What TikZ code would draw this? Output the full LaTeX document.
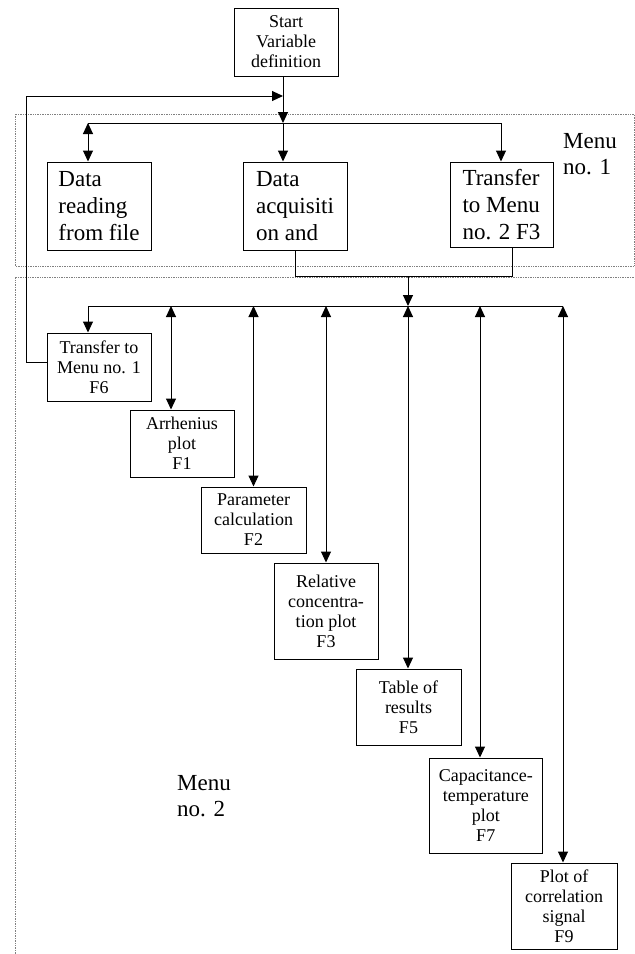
\documentclass[tikz,border=0pt]{standalone}
\usepackage{fontspec}
\setmainfont{Liberation Serif}
\usetikzlibrary{arrows.meta,positioning}

\begin{document}
\begin{tikzpicture}[
x=1pt, y=-1pt,
fsmall/.style={draw, line width=1pt, align=center, inner sep=0pt,
font=\fontsize{18}{20}\selectfont},
fbig/.style={draw, line width=1pt, align=left, inner sep=0pt,
minimum width=104pt, minimum height=88pt, font=\fontsize{23}{26.7}\selectfont},
menulabel/.style={anchor=north west, align=left, inner sep=0pt,
font=\fontsize{23}{26.7}\selectfont},
menuframe/.style={densely dotted, gray, line width=0.7pt},
link/.style={line width=1pt},
flow/.style={link, -{Triangle[length=11pt,width=10pt]}},
flowboth/.style={link, {Triangle[length=11pt,width=10pt]}-{Triangle[length=11pt,width=10pt]}}
]
\useasboundingbox (0,0) rectangle (635,954);

% menu frames
\draw[menuframe] (15,114) rectangle (634,266);
\draw[menuframe] (15,954) -- (15,277) -- (635,277);
\node[menulabel] (menu1) at (563,133) {Menu\\no. 1};
\node[menulabel] (menu2) at (177,775) {Menu\\no. 2};

\node[fsmall, minimum width=104, minimum height=68] (start) at (286,42) {Start\\Variable\\definition};

% menu 1
\node[fbig] (read) at (99,206) {Data\\reading\\from file};
\node[fbig] (acq) at (295,206) {Data\\acquisiti\\on and};
\node[fbig, minimum width=103, minimum height=85] (tomenu2) at (501.5,204.5) {Transfer\\to Menu\\no. 2 F3};

% menu 2
\node[fsmall, minimum width=104, minimum height=68] (f6) at (99,367) {Transfer to\\Menu no. 1\\F6};
\node[fsmall, minimum width=104, minimum height=67] (arr) at (182,443.5) {Arrhenius\\plot\\F1};
\node[fsmall, minimum width=105, minimum height=66] (par) at (253.5,520) {Parameter\\calculation\\F2};
\node[fsmall, minimum width=104, minimum height=96] (rel) at (326,611) {Relative\\concentra-\\tion plot\\F3};
\node[fsmall, minimum width=105, minimum height=76] (tab) at (408.5,707) {Table of\\results\\F5};
\node[fsmall, minimum width=113, minimum height=95] (cap) at (485.75,805.5) {Capacitance-\\temperature\\plot\\F7};
\node[fsmall, minimum width=106, minimum height=86] (sig) at (564,906) {Plot of\\correlation\\signal\\F9};

\coordinate (loopin) at (283,96);
\coordinate (loopcorner) at (26,96);
\coordinate (menu1in) at (283,123);
\coordinate (br1left) at (88,123);
\coordinate (br1right) at (501,123);
\coordinate (join) at (512,276);
\coordinate (menu2top) at (408,276);
\coordinate (menu2in) at (408,306);
\coordinate (br2left) at (88,306);
\coordinate (br2right) at (563,306);

\draw[flow] (start.south -| menu1in) -- (menu1in);
\draw[link] (br1left) -- (br1right);
\draw[flowboth] (br1left) -- (read.north -| br1left);
\draw[flow] (menu1in) -- (acq.north -| menu1in);
\draw[flow] (br1right) -- (tomenu2.north -| br1right);
\draw[link] (acq.south) |- (join) -- (tomenu2.south -| join);
\draw[flow] (menu2top) -- (menu2in);
\draw[link] (br2left) -- (br2right);
\draw[flow] (br2left) -- (f6.north -| br2left);
\draw[flow] ([yshift=5]f6.west) -| (loopcorner) -- (loopin);
\foreach \n/\x in {arr/171, par/253.5, rel/326, tab/408, cap/480, sig/563}{
\coordinate (tap-\n) at (\x,306);
\draw[flowboth] (tap-\n) -- (\n.north -| tap-\n);
}
\end{tikzpicture}
\end{document}
